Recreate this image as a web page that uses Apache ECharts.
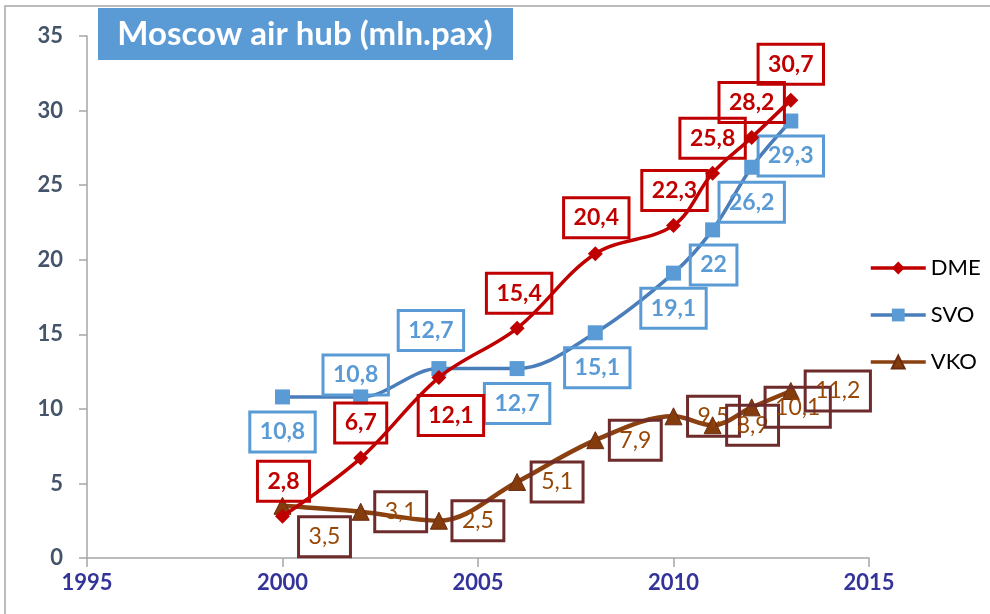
<!DOCTYPE html>
<html>
<head>
<meta charset="UTF-8">
<title>Moscow air hub</title>
<script src="https://cdn.jsdelivr.net/npm/echarts@6/dist/echarts.min.js"></script>
<style>
  html, body { margin: 0; padding: 0; background: #fff; }
  #chart { width: 990px; height: 614px; }
</style>
</head>
<body>
<div id="chart"></div>
<script>
// data
const years = [2000, 2002, 2004, 2006, 2008, 2010, 2011, 2012, 2013];
const dme = [2.8, 6.7, 12.1, 15.4, 20.4, 22.3, 25.8, 28.2, 30.7];
const svo = [10.8, 10.8, 12.7, 12.7, 15.1, 19.1, 22, 26.2, 29.3];
const vko = [3.5, 3.1, 2.5, 5.1, 7.9, 9.5, 8.9, 10.1, 11.2];
const xTicks = [1995, 2000, 2005, 2010, 2015];

// label placement (pixel offsets from the point)
const dmeOffsets = [[1, -35], [0, -35], [12, 38], [2, -35], [1, -36], [1, -35], [0, -35], [0, -35], [0, -36]];
const svoOffsets = [[0, 35], [-5, -22], [-8, -38], [0, 35], [2, 35], [0, 35], [1, 35], [0, 35], [0, 35]];
const vkoOffsets = [[42, 31], [40, 0], [39, 0], [40, 0], [40, 0], [40, 0], [40, 0], [46, 0], [47, 0]];

const font = 'Lato, "Open Sans", sans-serif';

function points(vals, offsets) {
  return vals.map((v, i) => ({
    value: [years[i], v],
    label: { offset: offsets[i] }
  }));
}

function boxLabel(textColor, borderColor, bold) {
  return {
    show: true,
    position: 'inside',
    formatter: p => String(p.value[1]).replace('.', ','),
    color: textColor,
    fontFamily: font,
    fontSize: 23,
    fontWeight: bold ? 'bold' : 'normal',
    lineHeight: 23,
    padding: [9, 10, 8, 10],
    borderColor: borderColor,
    borderWidth: 1.5,
    backgroundColor: 'transparent'
  };
}

const chart = echarts.init(document.getElementById('chart'));
chart.setOption({
  animation: false,
  backgroundColor: '#fff',
  grid: { left: 87, right: 121, top: 36, bottom: 56 },
  graphic: [
    {
      type: 'rect', z: -1,
      shape: { x: 5, y: 6, width: 1000, height: 700 },
      style: { fill: 'none', stroke: '#a6a6a6', lineWidth: 1.5 }
    },
    {
      type: 'group', left: 98, top: 8,
      children: [
        { type: 'rect', shape: { x: 0, y: 0, width: 415, height: 52 }, style: { fill: '#5b9bd5' } },
        {
          type: 'text', x: 207, y: 26,
          style: {
            text: 'Moscow air hub (mln.pax)', fill: '#fff',
            font: 'bold 33px ' + font, align: 'center', verticalAlign: 'middle'
          }
        }
      ]
    }
  ],
  legend: {
    orient: 'vertical',
    left: 864, top: 252,
    itemWidth: 55, itemHeight: 16, itemGap: 25,
    lineStyle: { width: 3.5 },
    textStyle: { fontFamily: font, fontSize: 22, color: '#000' },
    data: ['DME', 'SVO', 'VKO']
  },
  xAxis: {
    type: 'value', min: 1995, max: 2015, interval: 5,
    axisLine: { lineStyle: { color: '#a6a6a6', width: 1.5 } },
    axisTick: { show: true, length: 9, lineStyle: { color: '#a6a6a6', width: 1.5 } },
    axisLabel: {
      margin: 14, fontFamily: font, fontSize: 22, fontWeight: 'bold', color: '#333399',
      formatter: v => xTicks.includes(v) ? String(v) : ''
    },
    splitLine: { show: false }
  },
  yAxis: {
    type: 'value', min: 0, max: 35, interval: 5,
    axisLine: { show: true, lineStyle: { color: '#a6a6a6', width: 1.5 } },
    axisTick: { show: true, length: 8, lineStyle: { color: '#a6a6a6', width: 1.5 } },
    axisLabel: { margin: 24, fontFamily: font, fontSize: 22, fontWeight: 'bold', color: '#44546a' },
    splitLine: { show: false }
  },
  series: [
    {
      name: 'DME', type: 'line', smooth: 0.35, z: 3,
      symbol: 'diamond', symbolSize: 15,
      lineStyle: { color: '#c00000', width: 3.5 },
      itemStyle: { color: '#c00000' },
      label: boxLabel('#c00000', '#c00000', true),
      data: points(dme, dmeOffsets)
    },
    {
      name: 'SVO', type: 'line', smooth: 0.35, z: 2,
      symbol: 'rect', symbolSize: 15,
      lineStyle: { color: '#4a7ebb', width: 3.5 },
      itemStyle: { color: '#5b9bd5' },
      label: boxLabel('#5b9bd5', '#5b9bd5', true),
      data: points(svo, svoOffsets)
    },
    {
      name: 'VKO', type: 'line', smooth: 0.35, z: 2,
      symbol: 'triangle', symbolSize: 17,
      lineStyle: { color: '#8b4010', width: 4.5 },
      itemStyle: { color: '#843c0c', borderColor: '#6b2a10', borderWidth: 1 },
      label: boxLabel('#974806', '#6d2b2b', false),
      data: points(vko, vkoOffsets)
    }
  ]
});
</script>
</body>
</html>
